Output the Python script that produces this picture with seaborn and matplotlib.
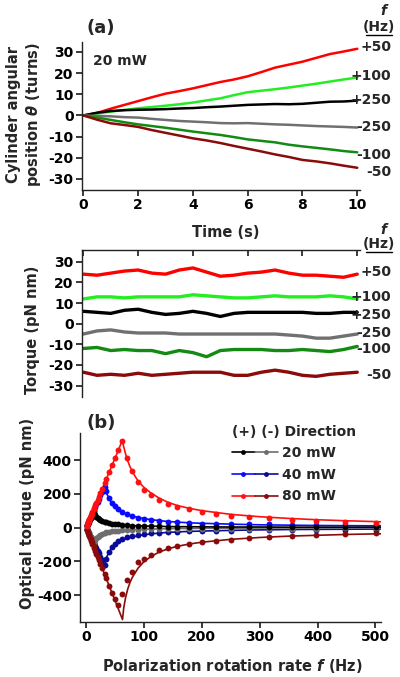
import matplotlib
matplotlib.use("Agg")
import matplotlib.pyplot as plt
import seaborn as sns
import numpy as np
from matplotlib.lines import Line2D
from matplotlib.legend_handler import HandlerTuple

# ---------------- data ----------------
TIME = [0, 0.5, 1, 1.5, 2, 2.5, 3, 3.5, 4, 4.5, 5, 5.5, 6, 6.5, 7, 7.5, 8, 8.5, 9, 9.5, 10]
FREQ_LABELS = ["+50", "+100", "+250", "-250", "-100", "-50"]
SERIES_COLORS = ["#ff0000", "#22ee22", "#000000", "#707070", "#138a13", "#8b0a0a"]

THETA_P50 = [0, 1.2, 3.2, 5.0, 6.8, 8.6, 10.3, 11.5, 12.8, 14.3, 15.8, 17.0, 18.5, 20.5, 22.6, 24.0, 25.4, 27.2, 29.0, 30.2, 31.5]
THETA_P100 = [0, 0.9, 1.8, 2.6, 3.4, 4.0, 4.6, 5.3, 6.1, 7.1, 8.1, 9.6, 11.0, 11.7, 12.4, 13.2, 14.1, 15.0, 16.0, 17.0, 17.9]
THETA_P250 = [0, 1.3, 2.1, 2.5, 2.7, 2.8, 3.0, 3.3, 3.5, 3.9, 4.2, 4.6, 5.0, 5.2, 5.4, 5.3, 5.5, 6.0, 6.5, 6.6, 7.0]
THETA_M250 = [0, -0.2, -0.4, -0.8, -1.0, -1.6, -2.1, -2.6, -2.9, -3.2, -3.6, -3.7, -3.6, -3.9, -4.2, -4.4, -4.7, -5.0, -5.2, -5.4, -5.7]
THETA_M100 = [0, -1.0, -2.1, -3.2, -4.2, -5.0, -5.8, -6.7, -7.6, -8.4, -9.2, -10.2, -11.3, -12.0, -12.7, -13.8, -14.6, -15.3, -16.0, -16.8, -17.4]
THETA_M50 = [0, -2.0, -3.7, -4.5, -5.4, -6.9, -8.2, -9.5, -10.8, -11.8, -13.0, -14.4, -15.7, -17.0, -18.4, -19.6, -21.0, -21.7, -22.6, -23.7, -24.7]

TORQ_P50 = [24, 23.5, 24.5, 25.5, 26, 24.5, 24, 26, 27, 25, 23, 23.5, 24.5, 25, 26, 24.5, 23.5, 23.5, 23, 22.5, 24]
TORQ_P100 = [12, 13, 13, 12.5, 13, 13, 13, 13, 14, 13.5, 13, 12.5, 12.5, 13, 13.5, 13, 13, 13, 13.5, 13, 12]
TORQ_P250 = [6, 5.5, 5, 6.5, 7, 5.5, 4.5, 5, 6, 5, 3.5, 5, 5.5, 5.5, 5.5, 5.5, 5.5, 5, 5, 5.5, 5.5]
TORQ_M250 = [-5, -3.5, -3, -4, -4.5, -4.5, -4.5, -5, -5, -5, -5, -5, -5, -5, -5, -5.5, -6, -7, -7, -6, -5]
TORQ_M100 = [-12, -11.5, -13, -12.5, -13, -13, -14.5, -13, -14, -16, -13, -12.5, -12.5, -12.5, -13, -13, -12.5, -13, -13.5, -12.5, -11]
TORQ_M50 = [-23.5, -25, -24.5, -25, -24, -25, -24.5, -24, -23.5, -23.5, -23.5, -25, -25, -23.5, -22.5, -23.5, -25, -25.5, -24.5, -24, -23.5]

FREQ = [1, 2, 3, 4, 5, 6, 7, 8, 9, 10, 11, 13, 14, 16, 18, 20, 22, 25, 28, 32, 35, 40, 45, 50, 56, 63,
        71, 79, 89, 100, 112, 126, 141, 158, 178, 200, 224, 251, 282, 316, 355, 398, 447, 501]
P20 = [7, 14, 21, 28, 35, 42, 49, 56, 63, 70, 77, 88, 82, 72, 63, 56, 50, 44, 39, 34, 30, 26, 23, 20, 18, 15,
       13, 11, 10, 9, 8, 7, 6, 6, 5, 5, 4, 4, 3, 3, 3, 2, 2, 2]
M20 = [-7, -14, -21, -28, -35, -42, -49, -56, -63, -70, -77, -90, -85, -74, -64, -56, -50, -43, -38, -33, -29, -25, -22, -20, -18, -16,
       -14, -13, -12, -11, -10, -9, -9, -8, -8, -7, -7, -7, -6, -6, -6, -6, -5, -5]
P40 = [8, 15, 23, 30, 38, 46, 53, 61, 68, 76, 84, 99, 106, 122, 137, 152, 167, 190, 213, 243, 215, 175, 148, 125, 108, 92,
       78, 66, 57, 50, 44, 39, 34, 30, 26, 23, 22, 20, 19, 18, 17, 16, 15, 14]
M40 = [-7, -14, -21, -28, -35, -42, -49, -55, -62, -69, -76, -90, -97, -110, -124, -138, -152, -172, -193, -220, -185, -145, -115, -95, -80, -67,
       -57, -50, -44, -39, -34, -30, -27, -24, -22, -20, -19, -18, -17, -16, -16, -15, -15, -14]
P80 = [8, 16, 25, 33, 41, 49, 57, 66, 74, 82, 90, 107, 115, 131, 148, 164, 180, 205, 230, 262, 287, 328, 369, 410, 459, 515,
       410, 335, 272, 225, 195, 162, 140, 120, 108, 94, 80, 70, 60, 54, 46, 38, 31, 25]
M80 = [-9, -17, -26, -35, -43, -52, -60, -69, -78, -86, -95, -112, -121, -138, -155, -173, -190, -216, -242, -277, -302, -346, -389, -425, -462, -395,
       -310, -262, -205, -185, -160, -135, -120, -108, -97, -86, -80, -72, -64, -56, -50, -44, -40, -35]

FIT_F = [0, 14, 16, 18, 20, 25, 32, 34, 36, 40, 45, 50, 56, 63, 65, 68, 72, 76, 80, 90, 100, 112, 126, 141, 158,
         178, 200, 250, 300, 350, 400, 450, 510]
FIT_P20 = [0, 90, 70, 60, 53, 42, 32, 30, 28, 25, 22, 19, 17, 15, 14, 13, 12, 12, 11, 10, 9, 8, 7, 6, 5,
           5, 4, 3, 3, 2, 2, 2, 2]
FIT_M20 = [0, -95, -72, -62, -55, -43, -33, -31, -29, -26, -23, -20, -18, -16, -15, -14, -13, -13, -12, -11, -10, -9, -8, -7, -6,
           -6, -5, -4, -3, -3, -3, -2, -2]
FIT_P40 = [0, 106, 122, 137, 152, 190, 250, 222, 200, 170, 142, 122, 105, 90, 87, 82, 77, 72, 68, 60, 53, 47, 41, 36, 32,
           28, 25, 20, 16, 14, 12, 11, 10]
FIT_M40 = [0, -97, -110, -124, -138, -172, -225, -195, -172, -145, -120, -102, -88, -75, -72, -68, -64, -60, -56, -49, -43, -38, -33, -29, -26,
           -23, -21, -17, -14, -12, -11, -10, -9]
FIT_P80 = [0, 115, 131, 148, 164, 205, 262, 279, 295, 328, 369, 410, 459, 520, 480, 440, 395, 360, 330, 275, 238, 205, 175, 150, 130,
           114, 100, 78, 64, 54, 46, 40, 34]
FIT_M80 = [0, -121, -138, -155, -173, -216, -277, -294, -311, -346, -389, -432, -484, -545, -480, -420, -365, -325, -295, -240, -203, -172, -146, -127, -111,
           -98, -87, -70, -59, -51, -46, -41, -37]

POWER_LABELS = ["20 mW", "40 mW", "80 mW"]
POS_COLORS = ["#000000", "#0a0aff", "#ff1010"]
NEG_COLORS = ["#6e6e6e", "#0a0a9a", "#8b0a0a"]

# ---------------- style ----------------
sns.set_theme(style="ticks")
plt.rcParams.update({
    "font.family": ["DejaVu Sans"],
    "font.weight": "bold",
    "axes.labelweight": "bold",
    "font.size": 10,
    "axes.labelsize": 10.5,
    "xtick.labelsize": 10,
    "ytick.labelsize": 10,
    "axes.unicode_minus": False,
    "axes.linewidth": 1.0,
    "axes.edgecolor": "#222222",
    "xtick.color": "#222222",
    "ytick.color": "#222222",
    "xtick.labelcolor": "black",
    "ytick.labelcolor": "black",
    "xtick.major.size": 4,
    "ytick.major.size": 4,
    "xtick.major.pad": 2,
    "ytick.major.pad": 2,
    "mathtext.fontset": "custom",
    "mathtext.it": "DejaVu Sans:italic:bold",
    "mathtext.rm": "DejaVu Sans:bold",
    "mathtext.bf": "DejaVu Sans:bold",
})

W, H = 400, 677
fig = plt.figure(figsize=(W / 100, H / 100), dpi=100)

def fx(px):
    return px / W

def fy(py):
    return 1 - py / H

ax1 = fig.add_axes([fx(82), fy(190), fx(360 - 82), (190 - 42) / H])
ax2 = fig.add_axes([fx(82), fy(397), fx(360 - 82), (397 - 250) / H])
ax3 = fig.add_axes([fx(80), fy(621.7), fx(381 - 80), (621.7 - 433) / H])

# ---------------- panel (a) top ----------------
thetas = [THETA_P50, THETA_P100, THETA_P250, THETA_M250, THETA_M100, THETA_M50]
for vals, c in zip(thetas, SERIES_COLORS):
    sns.lineplot(x=TIME, y=vals, ax=ax1, color=c, lw=1.8, estimator=None, sort=False)
ax1.set_xlim(-0.05, 10.1)
ax1.set_ylim(-35.2, 34.7)
ax1.set_xticks([0, 2, 4, 6, 8, 10])
ax1.set_yticks([-30, -20, -10, 0, 10, 20, 30])
sns.despine(ax=ax1)
ax1.set_xlabel("Time (s)")
ax1.xaxis.set_label_coords(0.516, -0.236)
ax1.set_ylabel("Cylinder angular\nposition $\\theta$ (turns)", linespacing=1.25)
ax1.yaxis.set_label_coords(-0.14, 0.507)
ax1.text(0.04, 0.87, "20 mW", transform=ax1.transAxes, fontsize=10, fontweight="bold", ha="left", va="center")

# ---------------- panel (a) bottom ----------------
torqs = [TORQ_P50, TORQ_P100, TORQ_P250, TORQ_M250, TORQ_M100, TORQ_M50]
for vals, c in zip(torqs, SERIES_COLORS):
    sns.lineplot(x=TIME, y=vals, ax=ax2, color=c, lw=2.4, estimator=None, sort=False)
ax2.set_xlim(-0.05, 10.1)
ax2.set_ylim(-35.5, 35.7)
ax2.set_yticks([-30, -20, -10, 0, 10, 20, 30])
ax2.set_xticks([0, 2, 4, 6, 8, 10])
ax2.xaxis.tick_top()
ax2.tick_params(axis="x", direction="in", labeltop=False, labelbottom=False, top=True, bottom=False)
ax2.spines["right"].set_visible(False)
ax2.spines["bottom"].set_visible(False)
ax2.set_xlabel("")
ax2.set_ylabel("Torque (pN nm)")
ax2.yaxis.set_label_coords(-0.151, 0.456)

# right-side frequency labels
top_label_y = [47, 76, 100, 127, 155, 172]
mid_label_y = [272, 297, 315, 333, 349, 375]
for ys in (top_label_y, mid_label_y):
    for lab, y in zip(FREQ_LABELS, ys):
        fig.text(fx(391), fy(y), lab, ha="right", va="center", fontsize=10, fontweight="bold")
for yf, yh in ((11, 27), (230, 244)):
    fig.text(fx(383), fy(yf), "f", ha="center", va="center", fontsize=10, fontweight="bold", style="italic")
    fig.text(fx(379), fy(yh), "(Hz)", ha="center", va="center", fontsize=10, fontweight="bold")
    fig.add_artist(Line2D([fx(366), fx(392)], [fy(yh + 8), fy(yh + 8)], color="black", lw=1.0))

fig.text(fx(87), fy(28), "(a)", ha="left", va="center", fontsize=13, fontweight="bold")

# ---------------- panel (b) ----------------
pos_sets = [(P20, FIT_P20), (P40, FIT_P40), (P80, FIT_P80)]
neg_sets = [(M20, FIT_M20), (M40, FIT_M40), (M80, FIT_M80)]
order = [(neg_sets[1], NEG_COLORS[1]), (pos_sets[1], POS_COLORS[1]),
         (neg_sets[0], NEG_COLORS[0]), (pos_sets[0], POS_COLORS[0]),
         (neg_sets[2], NEG_COLORS[2]), (pos_sets[2], POS_COLORS[2])]
for (dots, fit), c in order:
    sns.lineplot(x=FIT_F, y=fit, ax=ax3, color=c, lw=1.2, estimator=None, sort=False)
    sns.scatterplot(x=FREQ, y=dots, ax=ax3, color=c, s=18, linewidth=0, zorder=3)
ax3.set_xlim(-10.4, 509.5)
ax3.set_ylim(-558, 560)
ax3.set_xticks([0, 100, 200, 300, 400, 500])
ax3.set_yticks([-400, -200, 0, 200, 400])
sns.despine(ax=ax3)
ax3.set_xlabel("Polarization rotation rate $f$ (Hz)")
ax3.xaxis.set_label_coords(0.505, -0.187)
ax3.set_ylabel("Optical torque (pN nm)")
ax3.yaxis.set_label_coords(-0.15, 0.576)
fig.text(fx(87), fy(423), "(b)", ha="left", va="center", fontsize=13, fontweight="bold")

handles = []
for pc, nc in zip(POS_COLORS, NEG_COLORS):
    handles.append((Line2D([], [], color=pc, lw=1.2, marker="o", ms=3.5, mew=0),
                    Line2D([], [], color=nc, lw=1.2, marker="o", ms=3.5, mew=0)))
leg = ax3.legend(handles, POWER_LABELS, handler_map={tuple: HandlerTuple(ndivide=None, pad=0.0)},
                 loc="upper left", bbox_to_anchor=(0.505, 1.045), frameon=False, numpoints=1,
                 handlelength=3.3, handletextpad=0.3, labelspacing=0.55, borderpad=0, borderaxespad=0,
                 title="(+) (-) Direction", alignment="left",
                 prop={"weight": "bold", "size": 10}, title_fontproperties={"weight": "bold", "size": 10})

fig.savefig("out.png", dpi=100)
